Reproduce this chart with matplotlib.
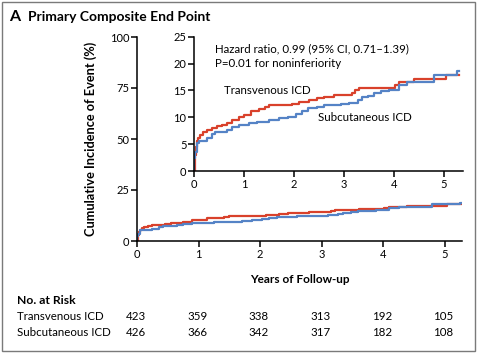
import matplotlib
matplotlib.use("Agg")
import matplotlib.pyplot as plt
from matplotlib.patches import Rectangle
import matplotlib.transforms as mtransforms

plt.rcParams['font.family'] = ['Lato', 'DejaVu Sans']

# step curves (years, cumulative incidence %)
tv_years = [0, 0.01, 0.03, 0.05, 0.08, 0.12, 0.18, 0.25, 0.35, 0.45, 0.55, 0.65, 0.75, 0.89,
            1.0, 1.13, 1.3, 1.42, 1.5, 1.95, 2.1, 2.3, 2.45, 2.6, 2.8, 3.15, 3.22, 3.3,
            3.6, 4.02, 4.09, 4.39, 5.04, 5.29]
tv_inc = [0, 3.0, 4.5, 5.5, 6.2, 6.7, 7.2, 7.6, 8.0, 8.3, 8.6, 9.0, 9.5, 10.1,
          10.4, 11.2, 11.5, 11.9, 12.3, 12.5, 12.8, 13.2, 13.5, 13.8, 14.2, 14.6, 15.0, 15.4,
          15.5, 16.0, 16.5, 17.1, 17.9, 17.9]
sc_years = [0, 0.005, 0.02, 0.05, 0.1, 0.25, 0.35, 0.42, 0.65, 0.75, 0.89, 1.1, 1.25, 1.5,
            1.7, 1.87, 2.03, 2.15, 2.27, 2.45, 2.6, 2.93, 3.1, 3.27, 3.35, 3.47, 3.59, 3.73,
            3.89, 4.09, 4.25, 4.79, 5.25, 5.29]
sc_inc = [0, 2.5, 3.6, 5.15, 5.6, 6.1, 6.8, 7.3, 7.6, 8.2, 8.6, 8.9, 9.2, 9.5,
          9.8, 10.1, 10.7, 11.2, 11.7, 12.0, 12.3, 12.5, 12.7, 13.2, 13.8, 14.0, 14.6, 14.8,
          15.1, 16.0, 16.5, 17.9, 18.7, 18.7]

# numbers at risk
risk_years = [0, 1, 2, 3, 4, 5]
risk_tv = [423, 359, 338, 313, 192, 105]
risk_sc = [426, 366, 342, 317, 182, 108]

red = '#d9412b'
blue = '#5583c6'

fig = plt.figure(figsize=(4.78, 3.53), dpi=100)


def style_axes(ax):
    for s in ['top', 'right']:
        ax.spines[s].set_visible(False)
    for s in ['left', 'bottom']:
        ax.spines[s].set_linewidth(1.1)
    ax.tick_params(direction='out', length=4, width=1.1, labelsize=8, pad=1.5)


# main axes
ax = fig.add_axes([137 / 478, 1 - 241 / 353, 325 / 478, 204 / 353])
ax.step(tv_years, tv_inc, where='post', color=red, lw=1.6)
ax.step(sc_years, sc_inc, where='post', color=blue, lw=1.6)
ax.set_xlim(0, 5.28)
ax.set_ylim(0, 100)
ax.set_xticks(risk_years)
ax.set_yticks([0, 25, 50, 75, 100])
style_axes(ax)
ax.set_xlabel('Years of Follow-up', fontsize=8.5, fontweight='bold', labelpad=10)
ax.set_ylabel('Cumulative Incidence of Event (%)', fontsize=9.2, fontweight='bold', labelpad=9)

# inset
ins = fig.add_axes([194 / 478, 1 - 171 / 353, 269 / 478, 134.3 / 353])
ins.patch.set_alpha(0)
ins.step(tv_years, tv_inc, where='post', color=red, lw=1.6)
ins.step(sc_years, sc_inc, where='post', color=blue, lw=1.6)
ins.set_xlim(0, 5.38)
ins.set_ylim(0, 25)
ins.set_xticks(risk_years)
ins.set_yticks([0, 5, 10, 15, 20, 25])
style_axes(ins)
ins.text(0.42, 22.8, 'Hazard ratio, 0.99 (95% CI, 0.71\u20131.39)', fontsize=8.3, va='center')
ins.text(0.42, 20.1, 'P=0.01 for noninferiority', fontsize=8.3, va='center')
ins.text(0.6, 15.0, 'Transvenous ICD', fontsize=8.3, va='center')
ins.text(2.48, 10.0, 'Subcutaneous ICD', fontsize=8.3, va='center')

# title
fig.text(9 / 478, 1 - 17 / 353, 'A', fontsize=11.5, fontweight='bold', va='center')
fig.text(28 / 478, 1 - 17 / 353, 'Primary Composite End Point', fontsize=10,
         fontweight='bold', va='center')

# number at risk table
trans = mtransforms.blended_transform_factory(ax.transData, fig.transFigure)
fig.text(17 / 478, 1 - 300 / 353, 'No. at Risk', fontsize=8.7, fontweight='bold', va='center')
fig.text(17 / 478, 1 - 316 / 353, 'Transvenous ICD', fontsize=8.3, va='center')
fig.text(17 / 478, 1 - 332 / 353, 'Subcutaneous ICD', fontsize=8.3, va='center')
for yr, a, b in zip(risk_years, risk_tv, risk_sc):
    fig.text(yr - 0.02, 1 - 316 / 353, str(a), fontsize=8.3, ha='center', va='center', transform=trans)
    fig.text(yr - 0.02, 1 - 332 / 353, str(b), fontsize=8.3, ha='center', va='center', transform=trans)

# outer frame
fig.patches.append(Rectangle((2 / 478, 2 / 353), 473 / 478, 349 / 353, transform=fig.transFigure,
                             fill=False, edgecolor='#7a7a7a', lw=1))

fig.savefig('out.png', dpi=100)
